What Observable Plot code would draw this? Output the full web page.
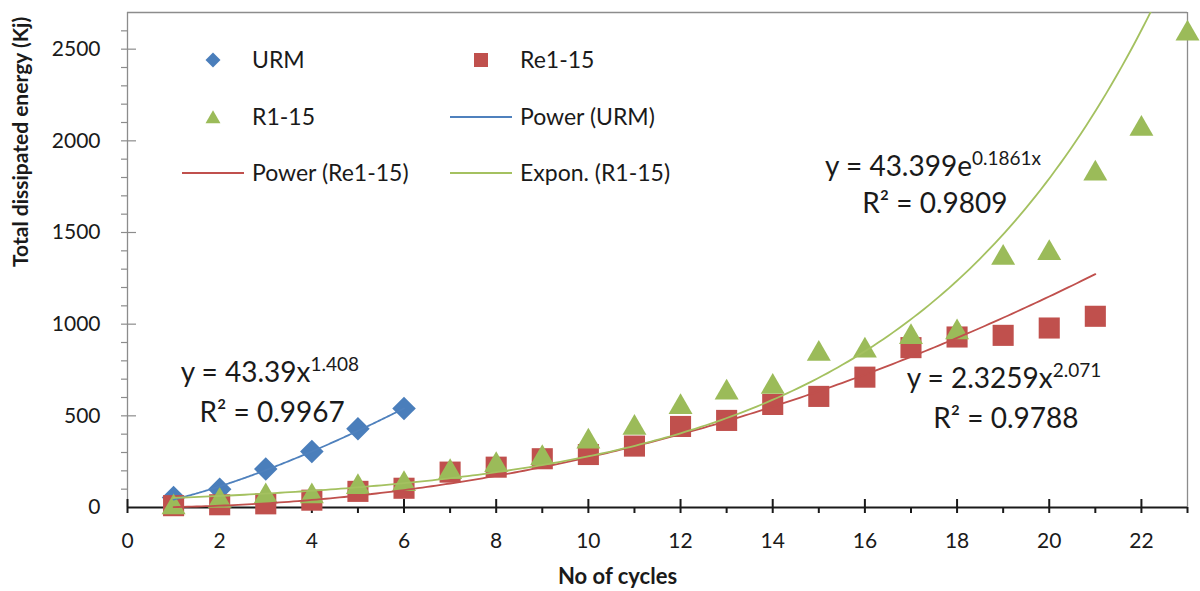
<!DOCTYPE html>
<html>
<head>
<meta charset="utf-8">
<script src="https://cdn.jsdelivr.net/npm/d3@7"></script>
<script src="https://cdn.jsdelivr.net/npm/@observablehq/plot@0.6"></script>
<style>
  html, body { margin: 0; padding: 0; background: #fff; }
  #chart { width: 1200px; height: 591px; }
  #chart svg { font-family: Lato, "Open Sans", sans-serif; }
</style>
</head>
<body>
<div id="chart"></div>
<script>
// Measured dissipated energy per cycle
const urmCycles = [1, 2, 3, 4, 5, 6];
const urmEnergy = [55, 100, 210, 305, 430, 540];

const re115Cycles = [1, 2, 3, 4, 5, 6, 7, 8, 9, 10, 11, 12, 13, 14, 15, 16, 17, 18, 19, 20, 21];
const re115Energy = [10, 15, 20, 40, 88, 105, 193, 220, 266, 289, 335, 442, 475, 562, 606, 711, 872, 930, 939, 979, 1043];

const r115Cycles = [1, 2, 3, 4, 5, 6, 7, 8, 9, 10, 11, 12, 13, 14, 15, 16, 17, 18, 19, 20, 21, 22, 23];
const r115Energy = [20, 55, 80, 80, 130, 147, 212, 251, 289, 378, 453, 567, 646, 677, 857, 875, 948, 975, 1381, 1407, 1840, 2085, 2604];

// Fitted trendlines (coefficients as reported)
const urmPower = [43.39, 1.408, 0.9967];      // y = a·x^b, R²
const re115Power = [2.3259, 2.071, 0.9788];   // y = a·x^b, R²
const r115Expon = [43.399, 0.1861, 0.9809];   // y = a·e^(b·x), R²

// Axis ticks
const xTicks = [0, 2, 4, 6, 8, 10, 12, 14, 16, 18, 20, 22];
const xMinorTicks = [1, 3, 5, 7, 9, 11, 13, 15, 17, 19, 21, 23];
const yTicks = [0, 500, 1000, 1500, 2000, 2500];
const yMinorTicks = [100, 200, 300, 400, 600, 700, 800, 900, 1100, 1200, 1300, 1400, 1600, 1700, 1800, 1900, 2100, 2200, 2300, 2400, 2600];

const colors = { URM: "#4a7ebb", "Re1-15": "#c0504d", "R1-15": "#9bbb59" };
const lineColors = { URM: "#4f81bd", "Re1-15": "#c0504d", "R1-15": "#a4c160" };

const urm = urmCycles.map((c, i) => ({ cycle: c, energy: urmEnergy[i] }));
const re115 = re115Cycles.map((c, i) => ({ cycle: c, energy: re115Energy[i] }));
const r115 = r115Cycles.map((c, i) => ({ cycle: c, energy: r115Energy[i] }));

// Sample each trendline over the range of its series
function curve(x0, x1, f) {
  const pts = [];
  const n = 200;
  for (let k = 0; k <= n; k++) {
    const x = x0 + (x1 - x0) * k / n;
    pts.push({ cycle: x, energy: f(x) });
  }
  return pts;
}
const urmTrend = curve(1, 6, x => urmPower[0] * Math.pow(x, urmPower[1]));
const re115Trend = curve(1, 21, x => re115Power[0] * Math.pow(x, re115Power[1]));
const r115Trend = curve(1, 23, x => r115Expon[0] * Math.exp(r115Expon[1] * x));

const gray = "#8c8c8c";
const ink = "#1a1a1a";

const chart = Plot.plot({
  width: 1200,
  height: 591,
  marginLeft: 127,
  marginRight: 13,
  marginTop: 12,
  marginBottom: 84,
  style: { background: "#fff", color: ink, overflow: "visible" },
  x: { domain: [0, 23] },
  y: { domain: [0, 2700] },
  marks: [
    // plot area border
    Plot.ruleY([2700], { stroke: gray, strokeWidth: 1.3 }),
    Plot.ruleX([23], { stroke: gray, strokeWidth: 1.3 }),
    Plot.ruleX([0], { stroke: gray, strokeWidth: 1.3 }),
    // y axis ticks
    Plot.ruleY(yMinorTicks, { x1: 0, x2: 0, insetLeft: -6, insetRight: 0, stroke: gray, strokeWidth: 1.2 }),
    Plot.ruleY(yTicks.slice(1), { x1: 0, x2: 0, insetLeft: -6, insetRight: -9, stroke: gray, strokeWidth: 1.2 }),
    Plot.axisY({ ticks: yTicks, tickFormat: d => String(d), tickSize: 0, tickPadding: 27, fontSize: 21, label: null }),
    // x axis line and ticks
    Plot.ruleY([0], { stroke: ink, strokeWidth: 2 }),
    Plot.ruleX(xMinorTicks, { y1: 0, y2: 0, insetTop: 0, insetBottom: -6, stroke: ink, strokeWidth: 2 }),
    Plot.ruleX(xTicks, { y1: 0, y2: 0, insetTop: -8, insetBottom: -6, stroke: ink, strokeWidth: 2 }),
    Plot.axisX({ ticks: xTicks, tickFormat: d => String(d), tickSize: 0, tickPadding: 26, fontSize: 21, label: null }),
    // axis titles
    Plot.text(["Total dissipated energy (Kj)"], {
      frameAnchor: "left", dx: -106, dy: 7, rotate: -90,
      fontSize: 21, fontWeight: "bold", fill: ink
    }),
    Plot.text(["No of cycles"], {
      frameAnchor: "bottom", dx: -40, dy: 69, lineAnchor: "middle",
      fontSize: 22, fontWeight: "bold", fill: ink
    }),
    // measured points
    Plot.dot(urm, { x: "cycle", y: "energy", symbol: "diamond2", r: 10.6, fill: colors.URM, stroke: "none" }),
    Plot.dot(re115, { x: "cycle", y: "energy", symbol: "square", r: 11.9, fill: colors["Re1-15"], stroke: "none" }),
    Plot.dot(r115, { x: "cycle", y: "energy", symbol: "triangle", r: 8.9, dy: 3.5, fill: colors["R1-15"], stroke: "none" }),
    // trendlines
    Plot.line(urmTrend, { x: "cycle", y: "energy", stroke: lineColors.URM, strokeWidth: 1.8 }),
    Plot.line(re115Trend, { x: "cycle", y: "energy", stroke: lineColors["Re1-15"], strokeWidth: 1.8 }),
    Plot.line(r115Trend, { x: "cycle", y: "energy", stroke: lineColors["R1-15"], strokeWidth: 1.8, clip: true })
  ]
});

document.getElementById("chart").appendChild(chart);

// Scales matching the plot, for legend and equation placement
const sxDesc = chart.scale("x"), syDesc = chart.scale("y");
const sx = d3.scaleLinear(sxDesc.domain, sxDesc.range);
const sy = d3.scaleLinear(syDesc.domain, syDesc.range);

const svg = d3.select(chart);
const fontFamily = 'Lato, "Open Sans", sans-serif';

// Legend (two columns, three rows) inside the plot area
const legend = svg.append("g")
  .attr("font-family", fontFamily)
  .attr("font-size", 23)
  .attr("fill", ink)
  .attr("text-anchor", "start");
const legendItems = [
  { label: "URM", kind: "symbol", symbol: d3.symbolDiamond2, size: 144, color: colors.URM, col: 0, row: 0 },
  { label: "Re1-15", kind: "symbol", symbol: d3.symbolSquare, size: 196, color: colors["Re1-15"], col: 1, row: 0 },
  { label: "R1-15", kind: "symbol", symbol: d3.symbolTriangle, size: 97, color: colors["R1-15"], col: 0, row: 1 },
  { label: "Power (URM)", kind: "line", color: lineColors.URM, col: 1, row: 1 },
  { label: "Power (Re1-15)", kind: "line", color: lineColors["Re1-15"], col: 0, row: 2 },
  { label: "Expon. (R1-15)", kind: "line", color: lineColors["R1-15"], col: 1, row: 2 }
];
const colText = [252, 520];
const rowY = [60, 117, 173];
for (const item of legendItems) {
  const tx = colText[item.col], ty = rowY[item.row];
  if (item.kind === "symbol") {
    legend.append("path")
      .attr("d", d3.symbol(item.symbol, item.size)())
      .attr("transform", `translate(${tx - 39},${ty + (item.symbol === d3.symbolTriangle ? 2 : 0)})`)
      .attr("fill", item.color);
  } else {
    legend.append("line")
      .attr("x1", tx - 70).attr("x2", tx - 8)
      .attr("y1", ty).attr("y2", ty)
      .attr("stroke", item.color).attr("stroke-width", 1.8);
  }
  legend.append("text")
    .attr("x", tx).attr("y", ty).attr("dy", "0.35em")
    .text(item.label);
}

// Trendline equations
const equations = [
  { cycle: 3.10, energy: 682, main: `y = ${urmPower[0]}x`, sup: `${urmPower[1]}`, r2: urmPower[2], r2cycle: 3.15, r2energy: 464 },
  { cycle: 17.49, energy: 1805, main: `y = ${r115Expon[0]}e`, sup: `${r115Expon[1]}x`, r2: r115Expon[2], r2cycle: 17.53, r2energy: 1604 },
  { cycle: 19.03, energy: 649, main: `y = ${re115Power[0]}x`, sup: `${re115Power[1]}`, r2: re115Power[2], r2cycle: 19.07, r2energy: 431 }
];
const notes = svg.append("g").attr("font-family", fontFamily).attr("fill", ink).attr("text-anchor", "middle");
for (const eq of equations) {
  const t = notes.append("text")
    .attr("x", sx(eq.cycle)).attr("y", sy(eq.energy))
    .attr("font-size", 28);
  t.append("tspan").text(eq.main);
  t.append("tspan").attr("dy", -11).attr("font-size", 19).text(eq.sup);
  notes.append("text")
    .attr("x", sx(eq.r2cycle)).attr("y", sy(eq.r2energy))
    .attr("font-size", 28)
    .text(`R² = ${eq.r2.toFixed(4)}`);
}
</script>
</body>
</html>
